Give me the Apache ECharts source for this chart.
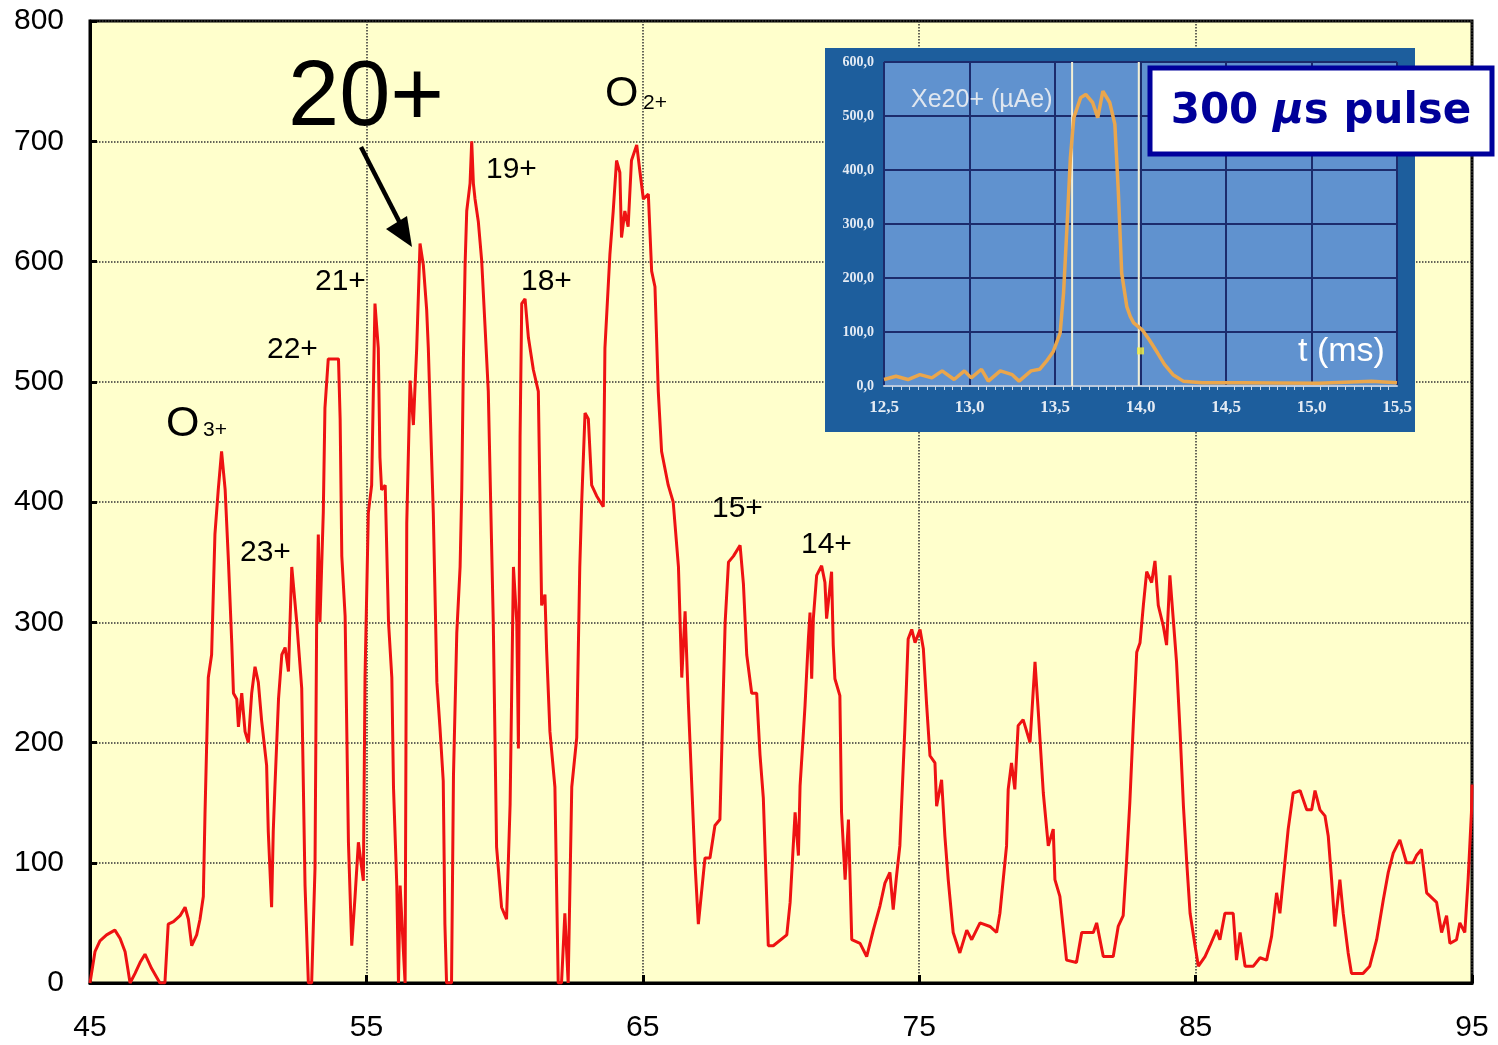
<!DOCTYPE html>
<html>
<head>
<meta charset="utf-8">
<title>Xe charge state spectrum</title>
<script src="https://cdn.jsdelivr.net/npm/echarts@6/dist/echarts.min.js"></script>
<style>
  html, body { margin: 0; padding: 0; background: #ffffff; }
  #chart { width: 1498px; height: 1045px; }
</style>
</head>
<body>
<div id="chart"></div>
<script>
// Mass-over-charge scan (main trace)
const massX = [
  45.0, 45.18, 45.36, 45.6, 45.9, 46.09, 46.27, 46.45, 46.63, 46.81, 46.99, 47.23, 47.53, 47.71, 47.83, 48.02, 48.26, 48.44, 48.56, 48.68,
  48.86, 48.98, 49.1, 49.16, 49.28, 49.4, 49.52, 49.64, 49.76, 49.89, 50.01, 50.13, 50.19, 50.31, 50.37, 50.49, 50.61, 50.73, 50.85, 50.97,
  51.09, 51.21, 51.39, 51.45, 51.57, 51.63, 51.69, 51.82, 51.94, 52.06, 52.18, 52.3, 52.48, 52.66, 52.78, 52.9, 53.02, 53.14, 53.2, 53.26,
  53.32, 53.44, 53.5, 53.62, 53.99, 54.05, 54.11, 54.23, 54.35, 54.47, 54.59, 54.71, 54.89, 54.95, 55.07, 55.19, 55.31, 55.43, 55.49, 55.55,
  55.68, 55.8, 55.92, 55.98, 56.1, 56.16, 56.22, 56.34, 56.4, 56.46, 56.58, 56.7, 56.82, 56.94, 57.06, 57.18, 57.24, 57.42, 57.55,
  57.66, 57.78, 57.84, 57.9, 58.08, 58.15, 58.27, 58.39, 58.45, 58.51, 58.57, 58.63, 58.75, 58.81, 58.87, 58.93, 59.05, 59.17, 59.29, 59.41,
  59.53, 59.59, 59.71, 59.89, 60.07, 60.2, 60.32, 60.44, 60.5, 60.56, 60.62, 60.74, 60.86, 61.04, 61.22, 61.34, 61.46, 61.52, 61.64, 61.82,
  61.94, 62.06, 62.18, 62.3, 62.43, 62.61, 62.72, 62.79, 62.91, 63.03, 63.15, 63.33, 63.57, 63.63, 63.81, 63.93, 64.05, 64.17, 64.23, 64.35,
  64.47, 64.59, 64.78, 64.9, 65.02, 65.2, 65.32, 65.44, 65.56, 65.68, 65.92, 66.1, 66.29, 66.41, 66.53, 66.65, 66.89, 67.01, 67.25, 67.43,
  67.61, 67.79, 67.98, 68.1, 68.28, 68.52, 68.64, 68.76, 68.94, 69.12, 69.24, 69.36, 69.54, 69.72, 70.21,
  70.33, 70.51, 70.63, 70.69, 70.81, 70.87, 70.99, 71.05, 71.11, 71.17, 71.29, 71.47, 71.59, 71.65, 71.83, 71.89, 71.95, 72.13, 72.19, 72.32,
  72.44, 72.56, 72.86, 73.1, 73.34, 73.58, 73.76, 73.94, 74.06, 74.18, 74.3, 74.48, 74.6, 74.73, 74.85, 75.03, 75.15, 75.27, 75.39, 75.57,
  75.63, 75.81, 75.93, 76.05, 76.23, 76.47, 76.72, 76.9, 77.2, 77.56, 77.8, 77.92, 78.16, 78.22, 78.34, 78.46, 78.58, 78.76, 79.01, 79.19,
  79.31, 79.49, 79.67, 79.85, 79.91, 80.09, 80.33, 80.69, 80.88, 81.3, 81.42, 81.66, 82.02, 82.2, 82.38, 82.5, 82.62, 82.75, 82.87, 82.99,
  83.11, 83.23, 83.41, 83.53, 83.65, 83.83, 83.95, 84.07, 84.19, 84.31, 84.44, 84.56, 84.68, 84.8, 84.98, 85.1, 85.34, 85.52, 85.76, 85.88,
  86.06, 86.36, 86.48, 86.61, 86.79, 87.09, 87.33, 87.57, 87.75, 87.93, 88.05, 88.23, 88.35, 88.53, 88.78, 89.02, 89.2, 89.32, 89.5, 89.68,
  89.8, 89.92, 90.04, 90.22, 90.34, 90.52, 90.64, 91.06, 91.3, 91.55, 91.79, 91.97, 92.15, 92.39, 92.63, 92.87, 92.99, 93.17, 93.36, 93.72,
  93.9, 94.08, 94.2, 94.44, 94.56, 94.74, 94.86, 94.98, 95.0
];
const signalY = [
  0, 26, 35, 40, 44, 37, 26, 0, 8, 17, 24, 12, 0, 0, 49, 51, 56, 63, 53, 31,
  40, 53, 72, 140, 254, 273, 373, 410, 442, 410, 350, 282, 241, 236, 213, 241, 209, 200, 241, 263,
  250, 218, 181, 126, 63, 126, 163, 236, 273, 279, 259, 346, 300, 245, 81, 0, 0, 95, 300, 373,
  300, 391, 478, 519, 519, 469, 355, 305, 117, 31, 72, 117, 85, 254, 391, 414, 565, 528, 437, 410,
  414, 300, 254, 163, 81, 0, 81, 26, 0, 382, 501, 464, 528, 615, 597, 560, 528, 391, 250,
  213, 168, 49, 0, 0, 172, 291, 346, 410, 519, 597, 642, 665, 700, 665, 652, 633, 601, 547, 492,
  364, 300, 113, 63, 53, 149, 346, 300, 195, 455, 565, 569, 537, 510, 492, 314, 323, 277, 209, 163,
  0, 0, 58, 0, 163, 204, 346, 400, 474, 469, 414, 405, 396, 528, 606, 642, 684, 674, 620, 642,
  629, 684, 697, 674, 652, 656, 592, 579, 492, 442, 414, 400, 346, 254, 309, 232, 99, 49, 104, 104,
  131, 136, 300, 350, 355, 364, 332, 273, 241, 241, 190, 154, 31, 31, 40,
  67, 142, 106, 164, 208, 231, 286, 308, 253, 303, 339, 347, 333, 303, 342, 281, 253, 239, 142, 86,
  136, 36, 33, 22, 44, 64, 83, 92, 61, 89, 114, 211, 286, 294, 283, 294, 278, 231, 189, 183,
  147, 169, 122, 86, 42, 25, 44, 36, 50, 47, 42, 58, 114, 161, 183, 161, 214, 219, 200, 267,
  225, 158, 114, 128, 86, 72, 19, 17, 42, 42, 50, 22, 22, 47, 56, 100, 150, 217, 275, 283,
  314, 342, 333, 351, 314, 297, 281, 339, 303, 267, 208, 147, 100, 58, 31, 14, 22, 31, 44, 36,
  58, 58, 19, 42, 14, 14, 21, 19, 39, 75, 58, 100, 128, 158, 160, 144, 144, 160, 144, 139,
  122, 86, 47, 86, 58, 25, 8, 8, 14, 36, 69, 92, 108, 119, 100, 100, 106, 111, 75, 67,
  42, 56, 33, 36, 50, 42, 86, 142, 165
];

// Xe20+ current versus time (inset trace)
const pulseT = [
  12.5, 12.57, 12.64, 12.71, 12.78, 12.84, 12.91, 12.97, 13.01, 13.07, 13.11, 13.18, 13.25, 13.29, 13.36, 13.41,
  13.45, 13.49, 13.53, 13.55, 13.57, 13.59, 13.61, 13.65, 13.68, 13.72, 13.75, 13.78, 13.82, 13.85, 13.87, 13.89,
  13.92, 13.94, 13.96, 14.01, 14.05, 14.1, 14.14, 14.19, 14.25, 14.36, 14.59, 15.04, 15.35, 15.5
];
const pulseI = [
  12, 18, 12, 21, 15, 28, 12, 28, 15, 31, 9, 28, 21, 9, 28, 31,
  46, 64, 98, 172, 294, 423, 497, 534, 540, 525, 497, 546, 525, 485, 362, 209,
  147, 129, 117, 104, 86, 61, 40, 21, 9, 6, 6, 5, 9, 6
];
// gate window edges (ms) and the cursor sample
const gateTimes = [13.6, 13.99];
const gateRange = [0, 600];
const cursorPoint = [14.0, 65];

const mainFont = 'Liberation Sans, Arial, sans-serif';
const commaFmt = (v, d) => v.toFixed(d).replace('.', ',');

const chart = echarts.init(document.getElementById('chart'), null, { renderer: 'canvas' });

function txt(text, x, y, size, fill, z) {
  return {
    type: 'text', x: x, y: y, z: z || 30,
    style: {
      text: text, fill: fill || '#000', fontSize: size, fontFamily: mainFont,
      align: 'left', verticalAlign: 'middle', textAlign: 'left', textVerticalAlign: 'middle'
    }
  };
}

const gateSeries = gateTimes.map(t => ({
  name: 'gate', type: 'line', xAxisIndex: 1, yAxisIndex: 1, z: 13,
  showSymbol: false, symbol: 'none', silent: true,
  lineStyle: { color: '#f3efd4', width: 2 },
  data: gateRange.map(v => [t, v])
}));

const option = {
  backgroundColor: '#ffffff',
  animation: false,
  grid: [
    { left: 90, top: 21, width: 1382, height: 962, show: true, backgroundColor: '#ffffcc',
      borderColor: '#000', borderWidth: 3, z: 0 },
    { left: 884, top: 62, width: 513, height: 324, show: true, backgroundColor: '#6092cf',
      borderWidth: 0, z: 11 }
  ],
  xAxis: [
    {
      type: 'value', gridIndex: 0, min: 45, max: 95, interval: 10, z: 1,
      axisLine: { lineStyle: { color: '#000', width: 3 } },
      axisTick: { inside: true, length: 8, lineStyle: { color: '#000', width: 3 } },
      axisLabel: { fontSize: 30, color: '#000', fontFamily: mainFont, margin: 30 },
      splitLine: { show: true, lineStyle: { type: 'dotted', color: '#333', width: 1.5 } }
    },
    {
      type: 'value', gridIndex: 1, min: 12.5, max: 15.5, interval: 0.5, z: 12,
      axisLine: { lineStyle: { color: '#b9c9de', width: 2 } },
      axisTick: { show: false },
      minorTick: { show: true, splitNumber: 10, length: 4, lineStyle: { color: '#c9d6e6', width: 1 } },
      axisLabel: { fontSize: 17, fontWeight: 'bold', color: '#e4ebf4', fontFamily: 'Liberation Serif, serif',
        margin: 13, formatter: v => commaFmt(v, 1) },
      splitLine: { show: true, lineStyle: { color: '#1c2b6c', width: 2 } }
    }
  ],
  yAxis: [
    {
      type: 'value', gridIndex: 0, min: 0, max: 800, interval: 100, z: 1,
      axisLine: { show: true, lineStyle: { color: '#000', width: 3 } },
      axisTick: { show: true, inside: true, length: 7, lineStyle: { color: '#000', width: 3 } },
      axisLabel: { fontSize: 30, color: '#000', fontFamily: mainFont, margin: 26 },
      splitLine: { show: true, lineStyle: { type: 'dotted', color: '#333', width: 1.5 } }
    },
    {
      type: 'value', gridIndex: 1, min: 0, max: 600, interval: 100, z: 12,
      axisLine: { show: false },
      axisTick: { show: false },
      axisLabel: { fontSize: 14, fontWeight: 'bold', color: '#e4ebf4', fontFamily: 'Liberation Serif, serif',
        margin: 10, formatter: v => commaFmt(v, 1) },
      splitLine: { show: true, lineStyle: { color: '#1c2b6c', width: 2 } }
    }
  ],
  series: [
    {
      name: 'spectrum', type: 'line', xAxisIndex: 0, yAxisIndex: 0, z: 3,
      showSymbol: false, symbol: 'none',
      lineStyle: { color: '#ee1212', width: 3 },
      data: massX.map((x, i) => [x, signalY[i]])
    },
    ...gateSeries,
    {
      name: 'pulse', type: 'line', xAxisIndex: 1, yAxisIndex: 1, z: 14,
      showSymbol: false, symbol: 'none',
      lineStyle: { color: '#eaa64c', width: 3.5 },
      data: pulseT.map((t, i) => [t, pulseI[i]])
    },
    {
      name: 'cursor', type: 'scatter', xAxisIndex: 1, yAxisIndex: 1, z: 15,
      symbol: 'rect', symbolSize: 7, itemStyle: { color: '#f2ee3c' },
      data: [cursorPoint]
    }
  ],
  graphic: [
    // inset frame
    { type: 'rect', z: 10, shape: { x: 825, y: 48, width: 590, height: 384 },
      style: { fill: '#1d5e9d' } },
    // inset titles
    txt('Xe20+ (µAe)', 911, 100, 25, '#dfe6ef', 16),
    txt('t (ms)', 1298, 352, 34, '#ffffff', 16),
    // pulse length box
    { type: 'rect', z: 20, shape: { x: 1150, y: 68, width: 342, height: 86 },
      style: { fill: '#ffffff', stroke: '#00009c', lineWidth: 5 } },
    { type: 'text', z: 21, x: 1321, y: 112,
      style: {
        text: '{a|300 }{b|µ}{a|s pulse}',
        align: 'center', verticalAlign: 'middle', textAlign: 'center', textVerticalAlign: 'middle',
        rich: {
          a: { fontSize: 42, fontWeight: 'bold', fill: '#000099', color: '#000099', fontFamily: 'DejaVu Sans, sans-serif' },
          b: { fontSize: 42, fontWeight: 'bold', fontStyle: 'italic', fill: '#000099', color: '#000099', fontFamily: 'DejaVu Sans, sans-serif' }
        }
      } },
    // charge state annotations
    txt('20+', 288, 100, 92),
    txt('19+', 486, 170, 30),
    txt('18+', 521, 282, 30),
    txt('21+', 315, 282, 30),
    txt('22+', 267, 350, 30),
    txt('23+', 240, 553, 30),
    txt('15+', 712, 509, 30),
    txt('14+', 801, 545, 30),
    txt('O', 166, 424, 43),
    txt('3+', 203, 430, 21),
    txt('O', 605, 94, 43),
    txt('2+', 643, 103, 21),
    // arrow to the 20+ peak
    { type: 'line', z: 30, shape: { x1: 361, y1: 147, x2: 401, y2: 225 },
      style: { stroke: '#000', lineWidth: 4.5 } },
    { type: 'polygon', z: 30, shape: { points: [[412, 247], [386, 229], [407, 216]] },
      style: { fill: '#000' } }
  ]
};

chart.setOption(option);
</script>
</body>
</html>
